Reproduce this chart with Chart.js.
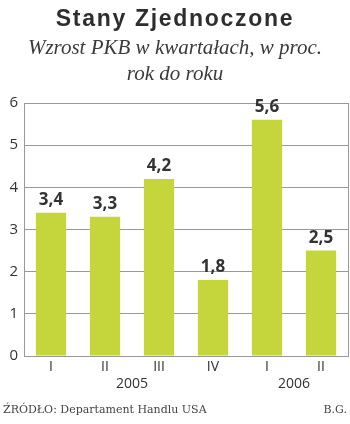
<!DOCTYPE html>
<html>
<head>
<meta charset="utf-8">
<script src="https://cdn.jsdelivr.net/npm/chart.js@4"></script>
<style>
  html, body { margin: 0; padding: 0; background: #fff; }
  #wrap { position: relative; width: 350px; height: 424px; overflow: hidden; }
  #chart { position: absolute; left: 0; top: 0; }
  .txt { position: absolute; color: #333; white-space: nowrap; }
  #title { left: 0; width: 350px; top: 5px; text-align: center; font: bold 23px "Liberation Sans", sans-serif; letter-spacing: 1.7px; color: #2e2e2e; }
  #subtitle { left: 0; width: 350px; top: 34px; text-align: center; font: italic 21px/26px "Liberation Serif", serif; color: #3a3a3a; }
  #source { left: 3px; top: 403px; font: 11px "DejaVu Serif", serif; color: #444; }
  #author { right: 3px; top: 403px; font: 11px "DejaVu Serif", serif; color: #444; }
</style>
</head>
<body>
<div id="wrap">
  <canvas id="chart" width="350" height="424"></canvas>
  <div class="txt" id="title">Stany Zjednoczone</div>
  <div class="txt" id="subtitle">Wzrost PKB w kwartałach, w proc.<br>rok do roku</div>
  <div class="txt" id="source">ŹRÓDŁO: Departament Handlu USA</div>
  <div class="txt" id="author">B.G.</div>
</div>
<script>
const quarters = ["I", "II", "III", "IV", "I", "II"];
const years = ["2005", "2005", "2005", "2005", "2006", "2006"];
const growth = [3.4, 3.3, 4.2, 1.8, 5.6, 2.5];
const yTicks = [0, 1, 2, 3, 4, 5, 6];

const barColor = "#c5d63c";
const textColor = "#333";

// value labels above bars + year labels + right border
const extras = {
  id: "extras",
  afterDatasetsDraw(chart) {
    const ctx = chart.ctx;
    const area = chart.chartArea;
    const xs = chart.scales.x;
    const meta = chart.getDatasetMeta(0);

    ctx.save();
    ctx.fillStyle = textColor;
    ctx.font = "bold 17px 'Open Sans', sans-serif";
    ctx.textAlign = "center";
    ctx.textBaseline = "alphabetic";
    meta.data.forEach((bar, i) => {
      ctx.fillText(growth[i].toFixed(1).replace(".", ","), bar.x, bar.y - 8);
    });

    // year labels under groups of quarters
    ctx.font = "14px 'Open Sans', sans-serif";
    ctx.textBaseline = "top";
    const groups = {};
    years.forEach((y, i) => {
      (groups[y] = groups[y] || []).push(xs.getPixelForValue(i));
    });
    Object.keys(groups).forEach(y => {
      const px = groups[y];
      ctx.fillText(y, (px[0] + px[px.length - 1]) / 2, area.bottom + 21);
    });

    // frame on the right
    ctx.strokeStyle = "#999";
    ctx.lineWidth = 1;
    ctx.beginPath();
    ctx.moveTo(area.right + 0.5, area.top);
    ctx.lineTo(area.right + 0.5, area.bottom);
    ctx.stroke();
    ctx.restore();
  }
};

new Chart(document.getElementById("chart"), {
  type: "bar",
  data: {
    labels: quarters,
    datasets: [{
      data: growth,
      backgroundColor: barColor,
      borderWidth: 0,
      categoryPercentage: 0.56,
      barPercentage: 1
    }]
  },
  options: {
    responsive: false,
    animation: false,
    layout: { padding: { top: 103, right: 2, bottom: 24, left: 0 } },
    plugins: { legend: { display: false }, tooltip: { enabled: false } },
    scales: {
      x: {
        grid: { display: false, drawTicks: false },
        border: { display: true, color: "#999" },
        ticks: { color: textColor, font: { family: "'Open Sans', sans-serif", size: 14 }, padding: 3 },
        afterFit: s => { s.height = 44; }
      },
      y: {
        min: 0,
        max: 6,
        afterBuildTicks: s => { s.ticks = yTicks.map(v => ({ value: v })); },
        grid: { color: "#999", drawTicks: false },
        border: { display: true, color: "#999" },
        ticks: { color: textColor, font: { family: "'Open Sans', sans-serif", size: 15 }, padding: 6 },
        afterFit: s => { s.width = 24; }
      }
    }
  },
  plugins: [extras]
});
</script>
</body>
</html>
